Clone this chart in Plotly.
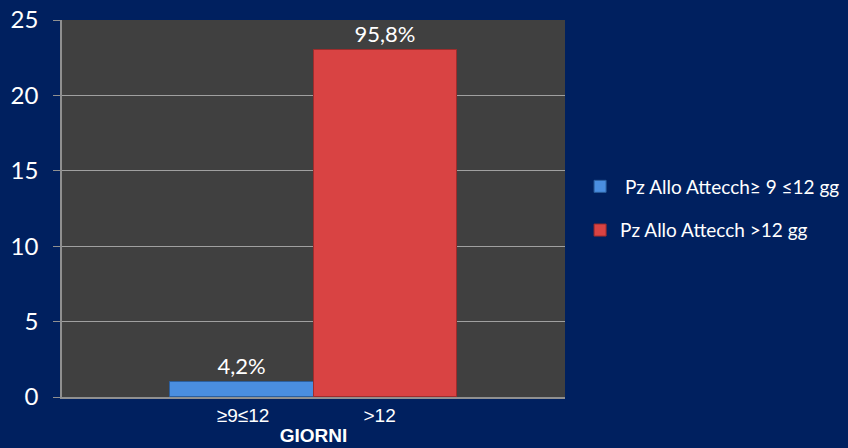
import plotly.graph_objects as go

series_names = [" Pz Allo Attecch\u2265 9 \u226412 gg", "Pz Allo Attecch >12 gg"]
series_values = [1, 23]
series_labels = ["4,2%", "95,8%"]
series_colors = ["#4a8ee0", "#d94343"]
series_lines = ["#2c5f9e", "#9e2c2c"]
bar_positions = [1.25, 2.25]
x_tick_labels = ["\u22659\u226412", ">12"]
x_tick_positions = [1.26, 2.21]
y_ticks = [0, 5, 10, 15, 20, 25]

fig = go.Figure()
for i in range(2):
    fig.add_trace(go.Bar(
        x=[bar_positions[i]], y=[series_values[i]], width=1.0,
        name=series_names[i], legendgroup=f"g{i}",
        marker=dict(color=series_colors[i], line=dict(color=series_lines[i], width=1)),
        text=[series_labels[i]], textposition="outside",
        textfont=dict(family="Lato", size=22, color="white"),
        cliponaxis=False,
    ))

fig.update_layout(
    width=848, height=448,
    margin=dict(l=62, r=283, t=20, b=51, autoexpand=False),
    paper_bgcolor="#00205f",
    plot_bgcolor="#404040",
    showlegend=True,
    legend=dict(x=1.030, y=0.5, xanchor="left", yanchor="middle",
                font=dict(family="Lato", size=19, color="white"),
                tracegroupgap=16, bgcolor="rgba(0,0,0,0)"),
    xaxis=dict(range=[0, 3.5], tickvals=x_tick_positions, ticktext=x_tick_labels,
               ticks="", showgrid=False, zeroline=False, automargin=False,
               showline=True, linecolor="#909090", linewidth=1.5,
               tickfont=dict(family="Liberation Sans", size=19, color="white"),
               title=dict(text="<b>GIORNI</b>", standoff=4,
                          font=dict(family="Liberation Sans", size=19, color="white"))),
    yaxis=dict(range=[0, 25], tickvals=y_ticks, ticks="outside", ticklen=7,
               tickcolor="#909090", showgrid=True, gridcolor="#a0a0a0", gridwidth=1,
               zeroline=False, showline=True, linecolor="#909090", linewidth=1.5,
               automargin=False, ticklabelstandoff=10,
               tickfont=dict(family="Lato", size=24, color="white")),
    bargap=0,
)

fig.write_html("out.html", config={"displayModeBar": False},
               post_script="document.body.style.margin='0px';")
